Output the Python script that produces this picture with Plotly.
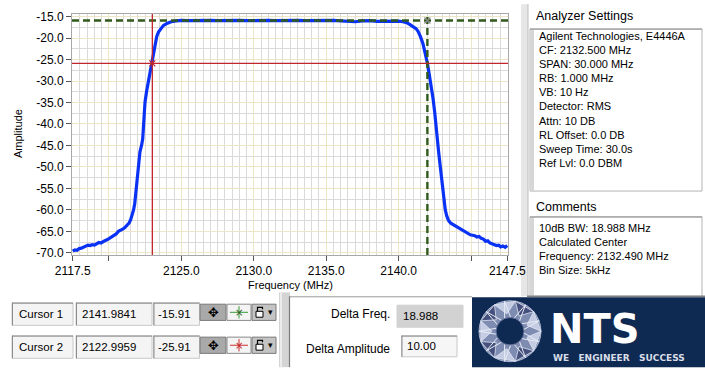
import math
import plotly.graph_objects as go

# ---------------- data ----------------
freq_mhz = [2117.50, 2117.65, 2117.80, 2117.95, 2118.10, 2118.25, 2118.40, 2118.55, 2118.70, 2118.85,
            2119.00, 2119.15, 2119.30, 2119.45, 2119.60, 2119.75, 2119.90, 2120.05, 2120.20, 2120.35,
            2120.50, 2120.65, 2120.80, 2120.95, 2121.10, 2121.25, 2121.40, 2121.50, 2121.60, 2121.70,
            2121.78, 2121.85, 2121.92, 2121.98, 2122.05, 2122.14, 2122.25, 2122.33, 2122.40, 2122.49,
            2122.60, 2122.71, 2122.83, 2122.95, 2123.07, 2123.18, 2123.30, 2123.42, 2123.55, 2123.75,
            2124.00, 2124.30, 2124.65, 2125.00, 2125.50, 2126.00, 2126.50, 2127.00, 2127.50, 2128.00,
            2128.50, 2129.00, 2129.50, 2130.00, 2130.50, 2131.00, 2131.50, 2132.00, 2132.50, 2133.00,
            2133.50, 2134.00, 2134.50, 2135.00, 2135.50, 2136.00, 2136.50, 2137.00, 2137.50, 2138.00,
            2138.50, 2139.00, 2139.50, 2140.00, 2140.30, 2140.55, 2140.76, 2141.00, 2141.20, 2141.33,
            2141.50, 2141.68, 2141.83, 2141.98, 2142.10, 2142.26, 2142.38, 2142.49, 2142.58, 2142.67,
            2142.76, 2142.86, 2142.95, 2143.05, 2143.13, 2143.22, 2143.32, 2143.45, 2143.60, 2143.75,
            2143.90, 2144.05, 2144.20, 2144.35, 2144.50, 2144.65, 2144.80, 2144.95, 2145.10, 2145.25,
            2145.40, 2145.55, 2145.70, 2145.85, 2146.00, 2146.15, 2146.30, 2146.45, 2146.60, 2146.75,
            2146.90, 2147.05, 2147.20, 2147.35, 2147.50]
amp_db = [-69.6, -69.3, -69.4, -69.0, -68.9, -68.6, -68.5, -68.2, -68.3, -68.1,
          -68.2, -67.8, -67.6, -67.7, -67.3, -67.1, -66.9, -66.6, -66.3, -65.9,
          -65.6, -65.0, -64.8, -64.5, -64.1, -63.6, -63.0, -62.3, -61.4, -60.0,
          -58.6, -56.5, -53.5, -51.0, -48.8, -46.5, -45.0, -43.5, -39.8, -35.0,
          -32.4, -30.3, -28.0, -25.8, -23.3, -21.3, -19.6, -18.6, -17.9, -17.1,
          -16.6, -16.2, -16.0, -15.9, -15.95, -15.9, -15.85, -15.9, -15.95, -15.9,
          -15.85, -15.9, -15.95, -15.9, -15.85, -15.9, -15.95, -15.9, -15.85, -15.9,
          -15.95, -15.9, -15.9, -15.85, -15.9, -16.0, -16.15, -16.2, -16.0, -15.95,
          -16.1, -16.05, -16.0, -16.05, -16.2, -16.4, -16.8, -17.3, -17.8, -18.4,
          -19.6, -21.3, -23.4, -25.8, -28.2, -31.2, -34.2, -37.3, -40.8, -44.2,
          -46.5, -49.5, -52.2, -55.2, -57.8, -60.0, -61.4, -62.5, -63.1, -63.4,
          -63.9, -64.2, -64.3, -64.8, -65.0, -65.3, -65.5, -65.8, -65.9, -66.0,
          -66.3, -66.2, -66.6, -66.8, -67.3, -67.2, -67.7, -67.9, -68.0, -68.3,
          -68.2, -68.6, -68.4, -68.7, -68.3]

cursor_names = ["Cursor 1", "Cursor 2"]
cursor_freq = [2141.9841, 2122.9959]
cursor_amp = [-15.91, -25.91]
cursor_freq_text = ["2141.9841", "2122.9959"]
cursor_amp_text = ["-15.91", "-25.91"]

x_tick_vals = [2117.5, 2120.0, 2125.0, 2130.0, 2135.0, 2140.0, 2145.0, 2147.5]
x_tick_text = ["2117.5", "", "2125.0", "2130.0", "2135.0", "2140.0", "", "2147.5"]
y_tick_vals = [-15, -20, -25, -30, -35, -40, -45, -50, -55, -60, -65, -70]
y_tick_text = ["-15.0", "-20.0", "-25.0", "-30.0", "-35.0", "-40.0", "-45.0", "-50.0",
               "-55.0", "-60.0", "-65.0", "-70.0"]

settings_lines = ["Agilent Technologies, E4446A", "CF: 2132.500 MHz", "SPAN: 30.000 MHz",
                  "RB: 1.000 MHz", "VB: 10 Hz", "Detector: RMS", "Attn: 10 DB",
                  "RL Offset: 0.0 DB", "Sweep Time: 30.0s", "Ref Lvl: 0.0 DBM"]
comment_lines = ["10dB BW: 18.988 MHz", "Calculated Center", "Frequency: 2132.490 MHz",
                 "Bin Size: 5kHz"]
delta_freq_text = "18.988"
delta_amp_text = "10.00"

# ---------------- styles / geometry ----------------
W, H = 705, 369
L, R, T, B = 72, 508, 10, 255
X_RANGE = [2117.45, 2147.55]
Y_RANGE = [-70.5, -14.4]
FONT = "Liberation Sans, Arial, sans-serif"
BLUE = "#0a32f5"
RED = "#c0262c"
GREEN = "#2f5a1c"
NAVY = "#0f2a52"


def px(x):
    return (x - L) / (R - L)


def py(y):
    return (B - y) / (B - T)


shapes = []
annotations = []


def rect(x0, y0, x1, y1, fill, line=None, lw=1, layer="below"):
    shapes.append(dict(type="rect", xref="paper", yref="paper",
                       x0=px(x0), x1=px(x1), y0=py(y1), y1=py(y0),
                       fillcolor=fill, layer=layer,
                       line=dict(color=line if line else fill, width=lw if line else 0)))


def hline(x0, x1, y, color, lw=1, layer="above"):
    shapes.append(dict(type="line", xref="paper", yref="paper", x0=px(x0), x1=px(x1),
                       y0=py(y), y1=py(y), line=dict(color=color, width=lw), layer=layer))


def vline(x, y0, y1, color, lw=1, layer="above"):
    shapes.append(dict(type="line", xref="paper", yref="paper", x0=px(x), x1=px(x),
                       y0=py(y0), y1=py(y1), line=dict(color=color, width=lw), layer=layer))


def text(x, y, s, size=11, color="#000", anchor="left", family=FONT, bold=False, angle=0):
    annotations.append(dict(xref="paper", yref="paper", x=px(x), y=py(y), text=s,
                            showarrow=False, xanchor=anchor, yanchor="middle", textangle=angle,
                            font=dict(family=family, size=size, color=color,
                                      weight="bold" if bold else "normal")))


def sunken_box(x0, y0, x1, y1, fill="#f4f4f4"):
    rect(x0, y0, x1, y1, fill, "#c8c8c8", 1, layer="above")
    hline(x0, x1, y0 + 0.5, "#8c8c8c", 1)
    vline(x0 + 0.5, y0, y1, "#8c8c8c", 1)


# right-side panel separator (kept below so the last tick label stays visible)
rect(521, 0, 528, 297, "#e6e6e6", layer="below")
vline(528, 0, 297, "#bdbdbd", 1, layer="below")

# Analyzer settings group
text(534, 12, "Analyzer Settings", size=12.5)
rect(530, 25, 702, 190, "#ffffff", "#b4b4b4", 1, layer="above")
rect(530, 25, 534, 190, "#d6d6d6", layer="above")
hline(530, 702, 25.5, "#9a9a9a", 1)
for i, s in enumerate(settings_lines):
    text(536.5, 32.5 + i * 14.3, s)

# Comments group
text(534, 206, "Comments", size=12.5)
rect(530, 216, 702, 297, "#ffffff", "#b4b4b4", 1, layer="above")
rect(530, 216, 534, 297, "#d6d6d6", layer="above")
hline(530, 702, 216.5, "#9a9a9a", 1)
hline(527, 705, 297, "#808080", 1.5)
for i, s in enumerate(comment_lines):
    text(536.5, 227.5 + i * 14.3, s)

# Cursor table
row_y = [(303.5, 326.5), (337, 360)]
for i in range(2):
    y0, y1 = row_y[i]
    yc = (y0 + y1) / 2
    sunken_box(12, y0, 73, y1)
    sunken_box(76, y0, 152, y1)
    sunken_box(153.5, y0, 199.5, y1)
    text(17, yc, cursor_names[i], size=11.5)
    text(80, yc, cursor_freq_text[i], size=11.5)
    text(156, yc, cursor_amp_text[i], size=11.5)
    # buttons
    by0, by1 = y0 + 1.5, y1 - 5
    bc = (by0 + by1) / 2
    rect(200, by0, 226, by1, "#a9a9a9", "#7a7a7a", 1, layer="above")
    text(213, bc, "✥", size=13, color="#000", anchor="center", family="DejaVu Sans")
    rect(227, by0, 251, by1, "#f4f4f4", "#8a8a8a", 1, layer="above")
    cc = GREEN if i == 0 else RED
    cc2 = "#3a9a3a" if i == 0 else "#d03030"
    hline(230, 248, bc, cc2, 1)
    vline(239, by0 + 2, by1 - 2, cc2, 1)
    text(239, bc, "×", size=10, color=cc, anchor="center", family="DejaVu Sans")
    rect(252, by0, 276, by1, "#c4c4c4", "#7a7a7a", 1, layer="above")
    rect(256, bc - 1, 263, bc + 5, "#ffffff", "#000000", 1, layer="above")
    shapes.append(dict(type="path", xref="paper", yref="paper",
                       path="M %f,%f L %f,%f L %f,%f L %f,%f" % (
                           px(257.5), py(bc - 1), px(257.5), py(bc - 5),
                           px(262.5), py(bc - 5), px(262.5), py(bc - 3)),
                       line=dict(color="#000", width=1.2), layer="above"))
    text(270, bc, "▾", size=9, color="#000", anchor="center", family="DejaVu Sans")

# bevel separator between cursor table and delta panel
rect(279, 293, 290, 369, "#d4d4d4", layer="above")
vline(281, 293, 369, "#ececec", 2)
vline(289.5, 297, 369, "#7a7a7a", 1.2)
hline(290, 472, 297.5, "#9a9a9a", 1)

# Delta panel
text(391.5, 315, "Delta Freq.", size=12, anchor="right")
rect(397, 306, 463, 328.5, "#d2d2d2", "#d2d2d2", 1, layer="above")
text(401, 317, delta_freq_text, size=11.5)
text(391.5, 350.5, "Delta Amplitude", size=12, anchor="right")
sunken_box(401.5, 337, 457, 358.5, fill="#f6f6f6")
text(405, 348, delta_amp_text, size=11.5)

# NTS logo panel
rect(472, 298, 705, 369, NAVY, layer="above")
cx, cy, r_out, r_in = 510, 332.5, 31, 14
shapes.append(dict(type="circle", xref="paper", yref="paper",
                   x0=px(cx - r_out), x1=px(cx + r_out), y0=py(cy + r_out), y1=py(cy - r_out),
                   fillcolor="#7e8cb2", line=dict(color="#aab4d0", width=1), layer="above"))
n = 9
for k in range(n):
    a0 = 2 * math.pi * k / n
    a1 = 2 * math.pi * (k + 1) / n
    am = (a0 + a1) / 2
    p0 = (cx + r_out * math.cos(a0), cy + r_out * math.sin(a0))
    p1 = (cx + r_out * math.cos(a1), cy + r_out * math.sin(a1))
    pm = (cx + (r_in + 4) * math.cos(am), cy + (r_in + 4) * math.sin(am))
    col = "#c3cce2" if k % 2 == 0 else "#45507c"
    shapes.append(dict(type="path", xref="paper", yref="paper",
                       path="M %f,%f L %f,%f L %f,%f Z" % (px(p0[0]), py(p0[1]), px(p1[0]), py(p1[1]),
                                                         px(pm[0]), py(pm[1])),
                       fillcolor=col, line=dict(color="#dfe5f2", width=0.8), layer="above"))
star = []
for k in range(n):
    a = 2 * math.pi * ((k * 4) % n) / n + math.pi / n
    star.append((cx + r_out * math.cos(a), cy + r_out * math.sin(a)))
path = "M " + " L ".join("%f,%f" % (px(p[0]), py(p[1])) for p in star) + " Z"
shapes.append(dict(type="path", xref="paper", yref="paper", path=path,
                   line=dict(color="#e6ebf5", width=1), layer="above"))
shapes.append(dict(type="circle", xref="paper", yref="paper",
                   x0=px(cx - r_in), x1=px(cx + r_in), y0=py(cy + r_in), y1=py(cy - r_in),
                   fillcolor=NAVY, line=dict(color="#6a78a0", width=1), layer="above"))
text(548, 330, "NTS", size=40, color="#ffffff", family="DejaVu Sans", bold=True)
text(551, 360, "WE   ENGINEER   SUCCESS", size=9, color="#d8dde8", family="DejaVu Sans", bold=True)

# axis titles
text(18, 132, "Amplitude", size=11, anchor="center", angle=-90)
text(290, 285.5, "Frequency (MHz)", size=11, anchor="center")

# ---------------- figure ----------------
fig = go.Figure()
fig.add_trace(go.Scatter(x=freq_mhz, y=amp_db, mode="lines",
                         line=dict(color=BLUE, width=3.2), hoverinfo="skip", showlegend=False))

# cursors (cursor 1 green dashed, cursor 2 red solid)
cursor_styles = [dict(color=GREEN, width=2.4, dash="7px,4px"), dict(color=RED, width=1.3)]
for i in range(2):
    fig.add_trace(go.Scatter(x=[cursor_freq[i], cursor_freq[i]], y=Y_RANGE, mode="lines",
                             line=cursor_styles[i], hoverinfo="skip", showlegend=False))
    fig.add_trace(go.Scatter(x=X_RANGE, y=[cursor_amp[i], cursor_amp[i]], mode="lines",
                             line=cursor_styles[i], hoverinfo="skip", showlegend=False))
    fig.add_trace(go.Scatter(x=[cursor_freq[i]], y=[cursor_amp[i]], mode="markers",
                             marker=dict(symbol="x-thin", size=6, color="#8a8a8a" if i == 0 else RED,
                                         line=dict(color="#8a8a8a" if i == 0 else RED, width=1.2)),
                             hoverinfo="skip", showlegend=False))

fig.update_layout(
    width=W, height=H, autosize=False,
    margin=dict(l=L, r=W - R, t=T, b=H - B, pad=0),
    paper_bgcolor="#ffffff", plot_bgcolor="#ffffff",
    font=dict(family=FONT, size=12, color="#000"),
    shapes=shapes, annotations=annotations, showlegend=False,
)
fig.update_xaxes(range=X_RANGE, tickvals=x_tick_vals, ticktext=x_tick_text,
                 ticks="outside", ticklen=5, tickcolor="#555", tickfont=dict(size=12),
                 showgrid=True, gridcolor="#ece5c6", gridwidth=1,
                 minor=dict(dtick=0.5, tick0=2117.5, showgrid=True, gridcolor="#dadada", ticks=""),
                 showline=True, linecolor="#a8a8a8", linewidth=1, mirror=True, zeroline=False)
fig.update_yaxes(range=Y_RANGE, tickvals=y_tick_vals, ticktext=y_tick_text,
                 ticks="outside", ticklen=5, tickcolor="#555", tickfont=dict(size=12),
                 showgrid=True, gridcolor="#ece5c6", gridwidth=1,
                 minor=dict(dtick=2.5, tick0=-15, showgrid=True, gridcolor="#dadada", ticks=""),
                 showline=True, linecolor="#a8a8a8", linewidth=1, mirror=True, zeroline=False)

fig.write_html("out.html", config={"displayModeBar": False},
               post_script="document.body.style.margin='0px';document.body.style.overflow='hidden';")
